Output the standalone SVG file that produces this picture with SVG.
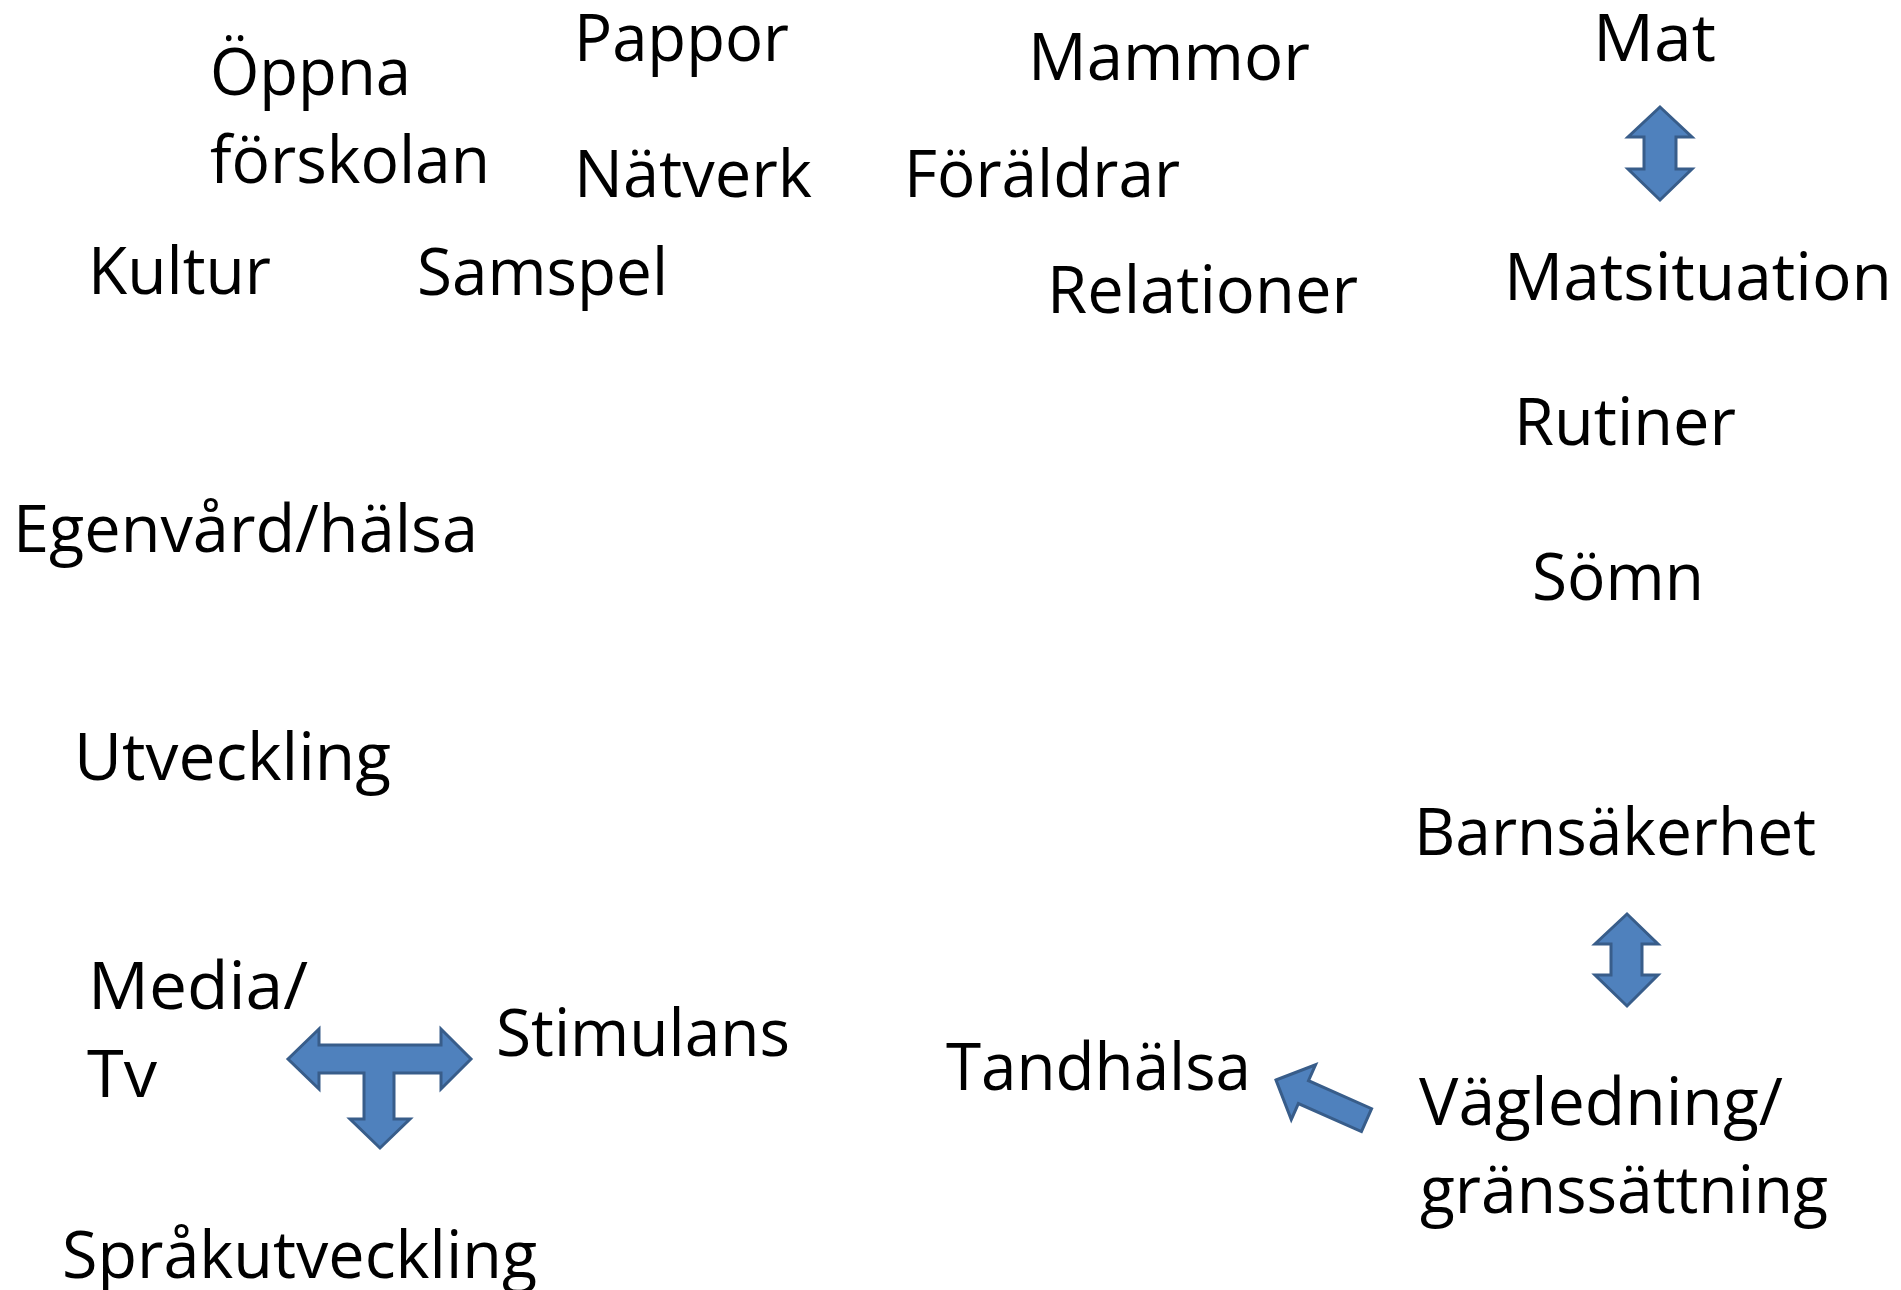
<svg xmlns="http://www.w3.org/2000/svg" width="1901" height="1290" viewBox="0 0 1901 1290">
<style>
text{font-family:"Open Sans","Liberation Sans",sans-serif;font-size:66px;fill:#000}
.arr{fill:#4F81BD;stroke:#385D8A;stroke-width:3;stroke-linejoin:miter}
</style>
<rect width="1901" height="1290" fill="#fff"/>
<g id="oppna-forskolan"><text x="210" y="95" textLength="201" lengthAdjust="spacingAndGlyphs">Öppna</text><text x="210" y="183" textLength="280" lengthAdjust="spacingAndGlyphs">förskolan</text></g>
<g id="pappor"><text x="574" y="61" textLength="215" lengthAdjust="spacingAndGlyphs">Pappor</text></g>
<g id="natverk"><text x="574" y="197" textLength="238" lengthAdjust="spacingAndGlyphs">Nätverk</text></g>
<g id="mammor"><text x="1028" y="80" textLength="282" lengthAdjust="spacingAndGlyphs">Mammor</text></g>
<g id="foraldrar"><text x="904" y="197" textLength="276" lengthAdjust="spacingAndGlyphs">Föräldrar</text></g>
<g id="mat"><text x="1593" y="61" textLength="123" lengthAdjust="spacingAndGlyphs">Mat</text></g>
<g id="kultur"><text x="88" y="294" textLength="183" lengthAdjust="spacingAndGlyphs">Kultur</text></g>
<g id="samspel"><text x="417" y="295" textLength="251" lengthAdjust="spacingAndGlyphs">Samspel</text></g>
<g id="relationer"><text x="1047" y="313" textLength="311" lengthAdjust="spacingAndGlyphs">Relationer</text></g>
<g id="matsituation"><text x="1504" y="300" textLength="388" lengthAdjust="spacingAndGlyphs">Matsituation</text></g>
<g id="rutiner"><text x="1514" y="445" textLength="222" lengthAdjust="spacingAndGlyphs">Rutiner</text></g>
<g id="egenvard"><text x="13" y="552" textLength="465" lengthAdjust="spacingAndGlyphs">Egenvård/hälsa</text></g>
<g id="somn"><text x="1532" y="600" textLength="172" lengthAdjust="spacingAndGlyphs">Sömn</text></g>
<g id="utveckling"><text x="74" y="780" textLength="317" lengthAdjust="spacingAndGlyphs">Utveckling</text></g>
<g id="barnsakerhet"><text x="1414" y="855" textLength="402" lengthAdjust="spacingAndGlyphs">Barnsäkerhet</text></g>
<g id="media-tv"><text x="88" y="1009" textLength="220" lengthAdjust="spacingAndGlyphs">Media/</text><text x="87" y="1097" textLength="70" lengthAdjust="spacingAndGlyphs">Tv</text></g>
<g id="stimulans"><text x="496" y="1056" textLength="294" lengthAdjust="spacingAndGlyphs">Stimulans</text></g>
<g id="tandhalsa"><text x="946" y="1090" textLength="305" lengthAdjust="spacingAndGlyphs">Tandhälsa</text></g>
<g id="vagledning"><text x="1419" y="1125" textLength="364" lengthAdjust="spacingAndGlyphs">Vägledning/</text><text x="1420" y="1213" textLength="408" lengthAdjust="spacingAndGlyphs">gränssättning</text></g>
<g id="sprakutveckling"><text x="62" y="1278" textLength="475" lengthAdjust="spacingAndGlyphs">Språkutveckling</text></g>
<g id="connectors">
<polygon class="arr" points="1660,107 1692,137 1676,137 1676,169 1692,169 1660,200 1628,169 1644,169 1644,137 1628,137"/>
<polygon class="arr" points="1627,914 1658,944 1642,944 1642,975 1658,975 1627,1006 1595,975 1611,975 1611,944 1595,944"/>
<polygon class="arr" points="288,1059 319,1029 319,1045 441,1045 441,1029 471,1059 441,1089 441,1073 394,1073 394,1119 410,1119 380,1148 350,1119 364,1119 364,1073 319,1073 319,1089"/>
<polygon class="arr" transform="translate(1276 1080) rotate(23.9)" points="0,0 30,-30 30,-12.5 99,-12.5 99,12.5 30,12.5 30,30"/>
</g>
</svg>
